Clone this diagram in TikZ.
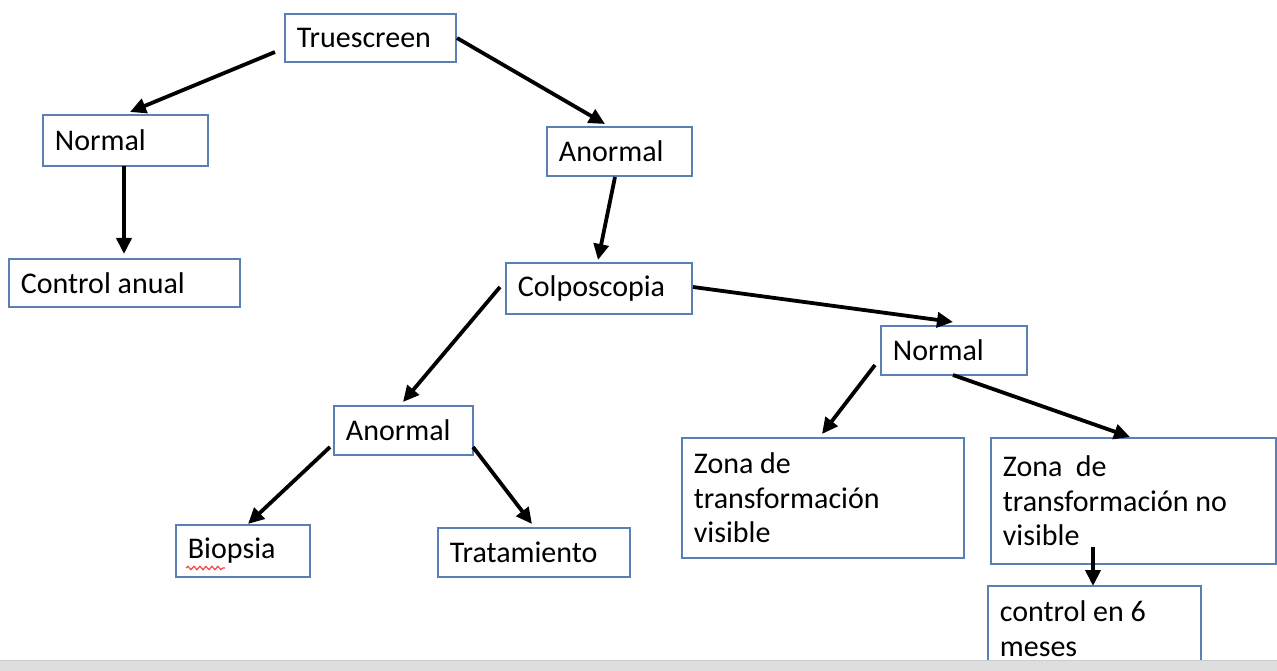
\documentclass[tikz,border=0pt]{standalone}
\usepackage{fontspec}
\setmainfont{Carlito}
\usetikzlibrary{arrows.meta,calc,decorations.pathmorphing}
\definecolor{boxblue}{HTML}{5A7FB3}
\definecolor{bargray}{HTML}{DEDEDE}
\tikzset{
  fbox/.style={draw=boxblue, line width=1.8pt, anchor=north west, inner xsep=12pt, inner ysep=0pt,
    align=flush left, font=\fontsize{30}{34.5}\selectfont},
  arr/.style={draw=black, line width=3.8pt, -{Triangle[length=16pt,width=15pt]}}
}
\begin{document}
\begin{tikzpicture}[x=1pt,y=-1pt]
\useasboundingbox (0,0) rectangle (1277,671);
\fill[white] (0,0) rectangle (1277,671);
\node[fbox, text width=147pt, minimum height=48pt] (trues) at (284,13) {Truescreen};
\node[fbox, text width=141pt, minimum height=51pt] (norm1) at (42,114) {Normal};
\node[fbox, text width=121pt, minimum height=49pt] (anorm1) at (546,126) {Anormal};
\node[fbox, text width=207pt, minimum height=48pt] (ctrl) at (8,258) {Control anual};
\node[fbox, text width=162pt, minimum height=51pt] (colpo) at (505,262) {Colposcopia};
\node[fbox, text width=122pt, minimum height=49pt] (norm2) at (880,325) {Normal};
\node[fbox, text width=115pt, minimum height=49pt] (anorm2) at (333,405) {Anormal};
\node[fbox, text width=110pt, minimum height=52pt] (biop) at (175,524) {Biopsia};
\node[fbox, text width=168pt, minimum height=49pt] (trat) at (437,527) {Tratamiento};
\node[fbox, text width=258pt, minimum height=120pt] (zv) at (681,437) {Zona de\\transformación\\visible};
\node[fbox, text width=261pt, minimum height=126pt] (znv) at (990,437) {Zona\ \ de\\transformación no\\visible};
\node[fbox, text width=189pt, minimum height=86pt] (c6) at (987,585) {control en 6\\meses};
% spell-check squiggle under "Bio"
\draw[red!75, line width=1.2pt, decorate, decoration={snake, amplitude=1.6pt, segment length=6pt}]
  ($(biop.north west)+(11,44)$) -- ($(biop.north west)+(50,44)$);
% connectors
\draw[arr] ($(trues.north west)+(-9,39)$) -- ($(norm1.north west)+(88,-2)$);
\draw[arr] ($(trues.north west)+(173,25)$) -- ($(anorm1.north west)+(59,-2)$);
\draw[arr] ($(norm1.north west)+(82,52)$) -- ($(ctrl.north west)+(116,-4)$);
\draw[arr] ($(anorm1.north west)+(69,51)$) -- ($(colpo.north west)+(93,-2)$);
\draw[arr] ($(colpo.north west)+(188,25)$) -- ($(norm2.north west)+(73,-3)$);
\draw[arr] ($(colpo.north west)+(-5,25)$) -- ($(anorm2.north west)+(70,-3)$);
\draw[arr] ($(norm2.north west)+(-5,40)$) -- ($(zv.north west)+(141,-3)$);
\draw[arr] ($(norm2.north west)+(73,50)$) -- ($(znv.north west)+(140,0)$);
\draw[arr] ($(anorm2.north west)+(-3,42)$) -- ($(biop.north west)+(73,0)$);
\draw[arr] ($(anorm2.north west)+(140,42)$) -- ($(trat.north west)+(95,-3)$);
\draw[arr] ($(znv.north west)+(103,110)$) -- ($(c6.north west)+(106,1)$);
% bottom gray bar
\fill[bargray] (0,660) rectangle (1277,671);
\draw[gray!40, line width=1pt] (0,660) -- (1277,660);
\end{tikzpicture}
\end{document}
